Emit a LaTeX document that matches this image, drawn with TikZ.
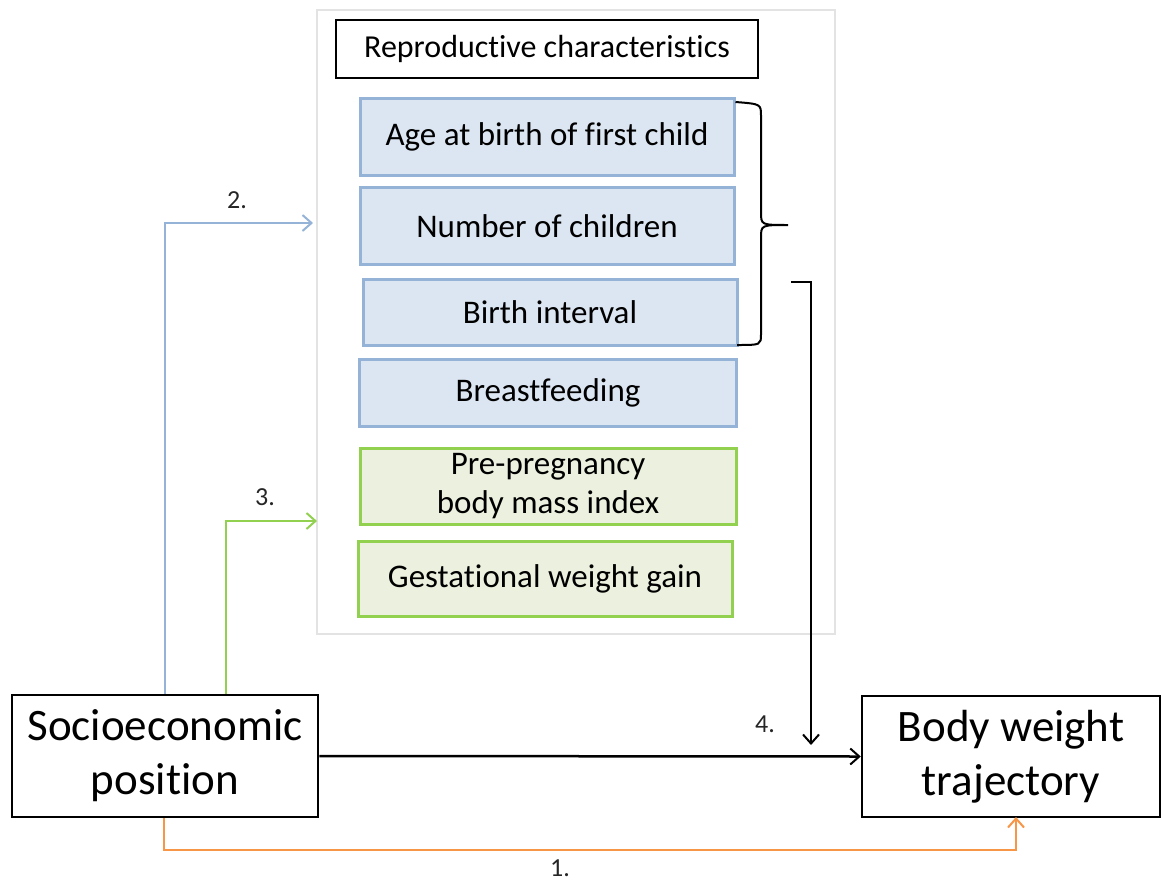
\documentclass[tikz,border=0pt]{standalone}
\usepackage{fontspec}
\setmainfont{Carlito}[Ligatures=NoCommon]
\usetikzlibrary{arrows.meta}
\definecolor{bluefill}{HTML}{DCE6F2}
\definecolor{blueline}{HTML}{95B3D7}
\definecolor{greenfill}{HTML}{EBF1DE}
\definecolor{greenline}{HTML}{92D050}
\definecolor{orangeline}{HTML}{F79646}
\definecolor{paneledge}{HTML}{E3E3E3}
\begin{document}
\begin{tikzpicture}[x=1pt,y=-1pt,
  bigbox/.style={draw=black,line width=2.5pt,fill=white,inner sep=0pt,align=center,font=\fontsize{45}{54}\selectfont},
  bluebox/.style={draw=blueline,line width=3pt,fill=bluefill,inner sep=0pt,align=center,font=\fontsize{33}{39}\selectfont},
  greenbox/.style={draw=greenline,line width=3pt,fill=greenfill,inner sep=0pt,align=center,font=\fontsize{33}{39}\selectfont},
  numlabel/.style={font=\fontsize{26}{30}\selectfont,text=black!85},
  tip/.style={-{Straight Barb[length=9pt,width=16pt,line width=2pt]}},
]
\useasboundingbox (0,0) rectangle (1161,891);

% grey panel holding the reproductive characteristics
\node[draw=paneledge,line width=2pt,fill=white,minimum width=518pt,minimum height=624pt,inner sep=0pt] (panel) at (576,322) {};
\node[draw=black,line width=2pt,fill=white,minimum width=422pt,minimum height=58pt,inner sep=0pt,font=\fontsize{32}{38}\selectfont] (title) at (547,49) {Reproductive characteristics};

% reproductive factors
\node[bluebox,minimum width=374pt,minimum height=77pt] (age) at (547,137) {Age at birth of first child};
\node[bluebox,minimum width=374pt,minimum height=77pt] (num) at (547,226) {Number of children};
\node[bluebox,minimum width=374pt,minimum height=66pt] (interval) at (550,312) {Birth interval};
\node[bluebox,minimum width=377pt,minimum height=67pt] (breast) at (548,393) {Breastfeeding};
\node[greenbox,minimum width=376pt,minimum height=76pt] (bmi) at (548,486) {Pre-pregnancy\\body mass index};
\node[greenbox,minimum width=374pt,minimum height=75pt] (gwg) at (545,579) {Gestational weight gain};

% exposure and outcome
\node[bigbox,minimum width=306pt,minimum height=122pt] (ses) at (165,756) {Socioeconomic\\position};
\node[bigbox,minimum width=298pt,minimum height=121pt] (bwt) at (1011,756.5) {Body weight\\trajectory};

% brace grouping the first three factors
\draw[line width=2pt] (age.north east) ++(0,5) coordinate (bt)
  (bt) .. controls (761,104) .. (761,116) -- (761,212)
  .. controls (761,225) .. (788,225)
  .. controls (761,225) .. (761,238) -- (761,334)
  .. controls (761,345) .. (737,345);

% path 1: direct effect
\coordinate (o1) at (164,850);
\draw[orangeline,line width=2pt,tip] (ses.south -| o1) |- (o1) -| (1016,817) coordinate (o2);
\node[numlabel] (l1) at (560,868) {1.};

% main association
\draw[black,line width=2.5pt,tip] (ses.east) -- (bwt.west);

% path 2: socioeconomic position to reproductive factors
\coordinate (b2) at (313,223);
\draw[blueline,line width=2pt,tip] (ses.north -| 165,0) |- (b2);
\node[numlabel] (l2) at (237,200) {2.};

% path 3: socioeconomic position to body mass and weight gain
\coordinate (g3) at (317,521);
\draw[greenline,line width=2pt,tip] (ses.north -| 226,0) |- (g3);
\node[numlabel] (l3) at (265,497) {3.};

% path 4: reproductive factors to body weight trajectory
\coordinate (r4) at (791,282);
\coordinate (r4end) at (811,745);
\draw[black,line width=2pt,tip] (r4) -| (r4end);
\node[numlabel] (l4) at (765,724) {4.};
\end{tikzpicture}
\end{document}
